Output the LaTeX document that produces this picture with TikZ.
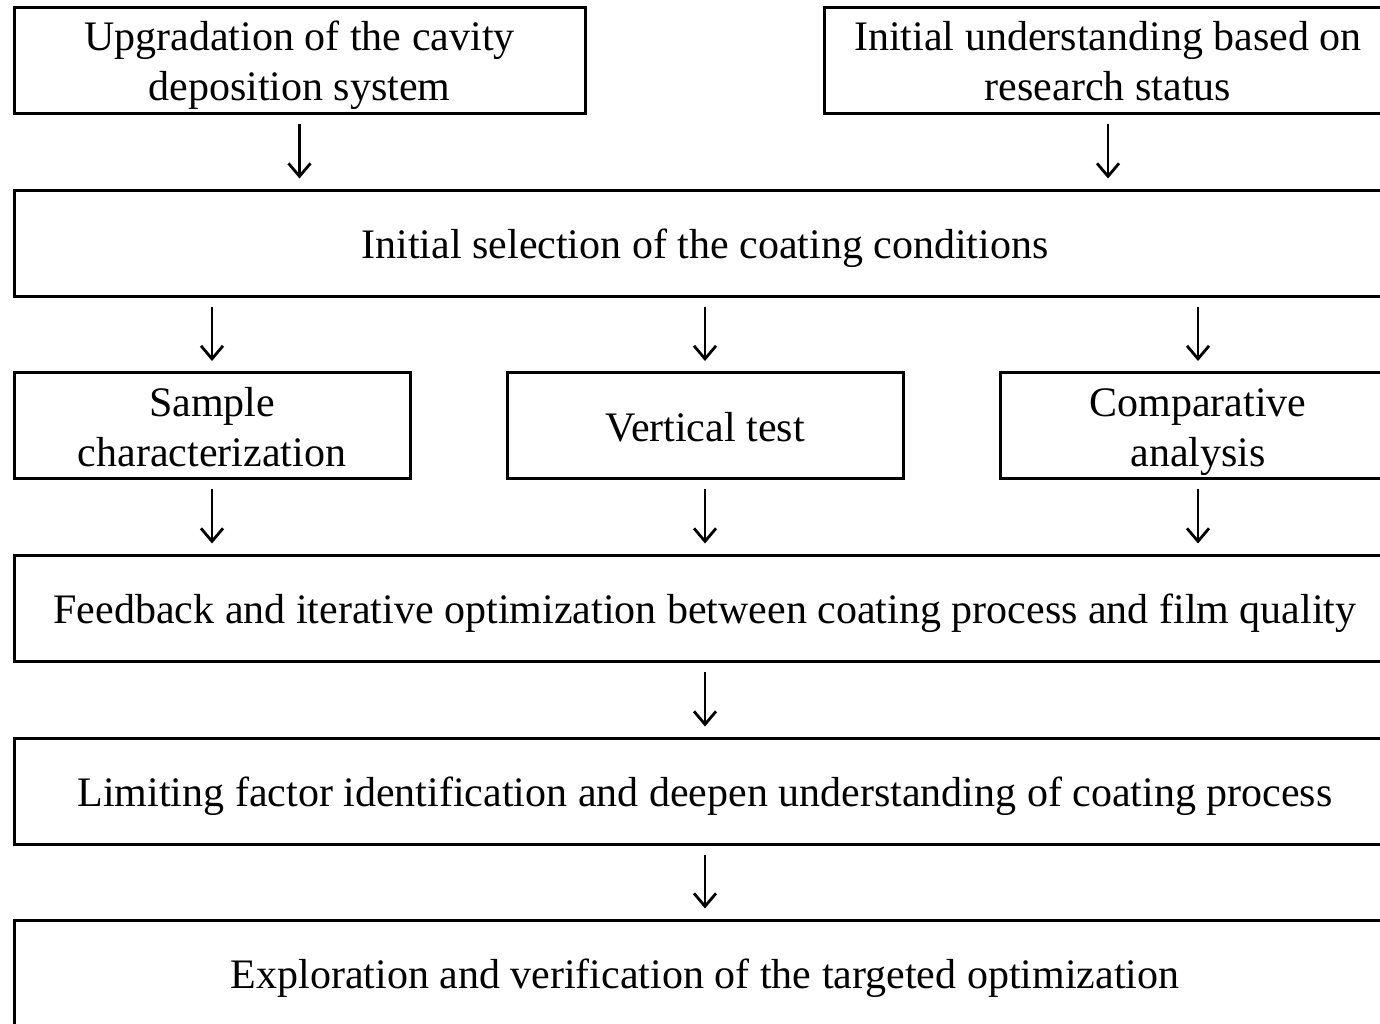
\documentclass[tikz,border=0pt]{standalone}
\usepackage{fontspec}
\setmainfont{Liberation Serif}
\usetikzlibrary{arrows.meta}
\newcommand\topstrut{\rule{0pt}{43pt}}
\newcommand\botstrut{\rule[-12pt]{0pt}{12pt}}
\begin{document}
\begin{tikzpicture}[x=1pt,y=-1pt,
  box/.style={draw=black,line width=3pt,rectangle,inner sep=0pt,align=center,
    font=\fontsize{42}{50}\selectfont,minimum height=106pt},
  flow/.style={line width=2.8pt,-{Straight Barb[length=13pt,width=22pt,line width=2.8pt]},
    shorten <=9pt,shorten >=10pt}]
\useasboundingbox (0,0) rectangle (1380,1023);
\clip (0,0) rectangle (1380,1023);
\node[box,minimum width=571pt] (b1) at (299.5,60) {\topstrut Upgradation of the cavity\\deposition system\botstrut};
\node[box,minimum width=568pt] (b2) at (1108,60) {\topstrut Initial understanding based on\\research status\botstrut};
\node[box,minimum width=1382pt] (b3) at (705,243) {\topstrut Initial selection of the coating conditions\botstrut};
\node[box,minimum width=396pt] (b4) at (212,425.5) {\topstrut Sample\\characterization\botstrut};
\node[box,minimum width=396pt] (b5) at (705,425.5) {\topstrut Vertical test\botstrut};
\node[box,minimum width=396pt] (b6) at (1198,425.5) {\topstrut Comparative\\analysis\botstrut};
\node[box,minimum width=1382pt] (b7) at (705,608) {\topstrut Feedback and iterative optimization between coating process and film quality\botstrut};
\node[box,minimum width=1382pt] (b8) at (705,791) {\topstrut Limiting factor identification and deepen understanding of coating process\botstrut};
\node[box,minimum width=1382pt] (b9) at (705,973) {\topstrut Exploration and verification of the targeted optimization\botstrut};
\draw[flow] (b1.south) -- (b1.south |- b3.north);
\draw[flow] (b2.south) -- (b2.south |- b3.north);
\draw[flow] (b4.north |- b3.south) -- (b4.north);
\draw[flow] (b5.north |- b3.south) -- (b5.north);
\draw[flow] (b6.north |- b3.south) -- (b6.north);
\draw[flow] (b4.south) -- (b4.south |- b7.north);
\draw[flow] (b5.south) -- (b5.south |- b7.north);
\draw[flow] (b6.south) -- (b6.south |- b7.north);
\draw[flow] (b7.south) -- (b8.north);
\draw[flow] (b8.south) -- (b9.north);
\end{tikzpicture}
\end{document}
